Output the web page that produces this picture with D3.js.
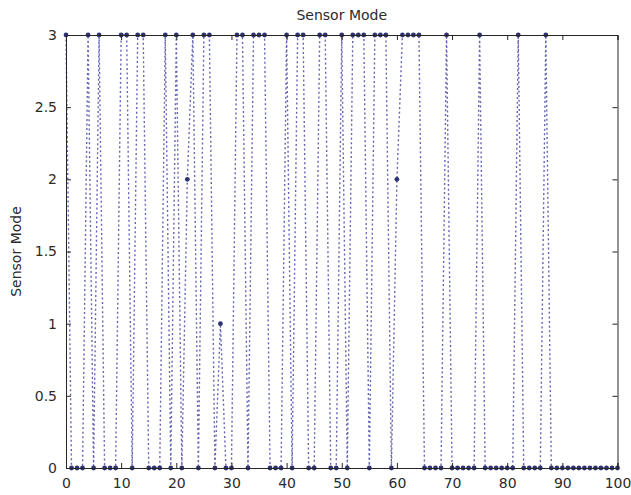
<!DOCTYPE html>
<html>
<head>
<meta charset="utf-8">
<script src="https://cdn.jsdelivr.net/npm/d3@7"></script>
<style>
  html, body { margin: 0; padding: 0; background: #fff; }
  svg { display: block; }
  text { font-family: "DejaVu Sans", "Liberation Sans", Arial, sans-serif; fill: #2b2b2b; }
</style>
</head>
<body>
<svg id="chart" width="631" height="495"></svg>
<script>
// ---- data ----
const chartTitle = "Sensor Mode";
const yLabel = "Sensor Mode";
const time = [
  0,1,2,3,4,5,6,7,8,9,
  10,11,12,13,14,15,16,17,18,19,
  20,21,22,23,24,25,26,27,28,29,
  30,31,32,33,34,35,36,37,38,39,
  40,41,42,43,44,45,46,47,48,49,
  50,51,52,53,54,55,56,57,58,59,
  60,61,62,63,64,65,66,67,68,69,
  70,71,72,73,74,75,76,77,78,79,
  80,81,82,83,84,85,86,87,88,89,
  90,91,92,93,94,95,96,97,98,99,100
];
const mode = [
  3,0,0,0,3,0,3,0,0,0,
  3,3,0,3,3,0,0,0,3,0,
  3,0,2,3,0,3,3,0,1,0,
  0,3,3,0,3,3,3,0,0,0,
  3,0,3,3,0,0,3,3,0,0,
  3,0,3,3,3,0,3,3,3,0,
  2,3,3,3,3,0,0,0,0,3,
  0,0,0,0,0,3,0,0,0,0,
  0,0,3,0,0,0,0,3,0,0,
  0,0,0,0,0,0,0,0,0,0,0
];
const xTicks = [0,10,20,30,40,50,60,70,80,90,100];
const yTicks = [0,0.5,1,1.5,2,2.5,3];

// ---- layout ----
const mLeft = 66, mRight = 617.5, mTop = 35, mBottom = 468;
const svg = d3.select("#chart");
svg.append("rect").attr("width", 631).attr("height", 495).attr("fill", "#fff");

const x = d3.scaleLinear().domain([0, 100]).range([mLeft, mRight]);
const y = d3.scaleLinear().domain([0, 3]).range([mBottom, mTop]);

const points = time.map((t, i) => ({ t, v: mode[i] }));

// dotted data line
const line = d3.line().x(d => x(d.t)).y(d => y(d.v));
svg.append("path")
  .datum(points)
  .attr("d", line)
  .attr("fill", "none")
  .attr("stroke", "#6464b4")
  .attr("stroke-width", 1.4)
  .attr("stroke-dasharray", "2,2.6");

// markers
svg.append("g").selectAll("circle")
  .data(points)
  .join("circle")
  .attr("cx", d => x(d.t))
  .attr("cy", d => y(d.v))
  .attr("r", 2.4)
  .attr("fill", "#2e3270");

// axes (MATLAB style: inside ticks, full box)
const tickLen = 5;
const axisColor = "#262626";
const gx = svg.append("g").attr("transform", `translate(0,${mBottom})`)
  .call(d3.axisBottom(x).tickValues(xTicks).tickSize(-tickLen).tickPadding(10).tickFormat(d3.format("d")));
const gxTop = svg.append("g").attr("transform", `translate(0,${mTop})`)
  .call(d3.axisTop(x).tickValues(xTicks).tickSize(-tickLen).tickFormat(""));
const gy = svg.append("g").attr("transform", `translate(${mLeft},0)`)
  .call(d3.axisLeft(y).tickValues(yTicks).tickSize(-tickLen).tickPadding(9).tickFormat(d => d3.format("")(d)));
const gyRight = svg.append("g").attr("transform", `translate(${mRight},0)`)
  .call(d3.axisRight(y).tickValues(yTicks).tickSize(-tickLen).tickFormat(""));

[gx, gxTop, gy, gyRight].forEach(g => {
  g.select(".domain").attr("stroke", axisColor).attr("stroke-width", 1);
  g.selectAll(".tick line").attr("stroke", axisColor).attr("stroke-width", 1);
  g.selectAll("text").attr("font-size", 14).attr("fill", "#2b2b2b")
    .attr("font-family", "'DejaVu Sans', 'Liberation Sans', Arial, sans-serif");
});

// title
svg.append("text")
  .attr("x", (mLeft + mRight) / 2)
  .attr("y", 20)
  .attr("text-anchor", "middle")
  .attr("font-size", 14)
  .text(chartTitle);

// y label
svg.append("text")
  .attr("transform", `translate(21,${(mTop + mBottom) / 2}) rotate(-90)`)
  .attr("text-anchor", "middle")
  .attr("font-size", 14)
  .text(yLabel);
</script>
</body>
</html>
